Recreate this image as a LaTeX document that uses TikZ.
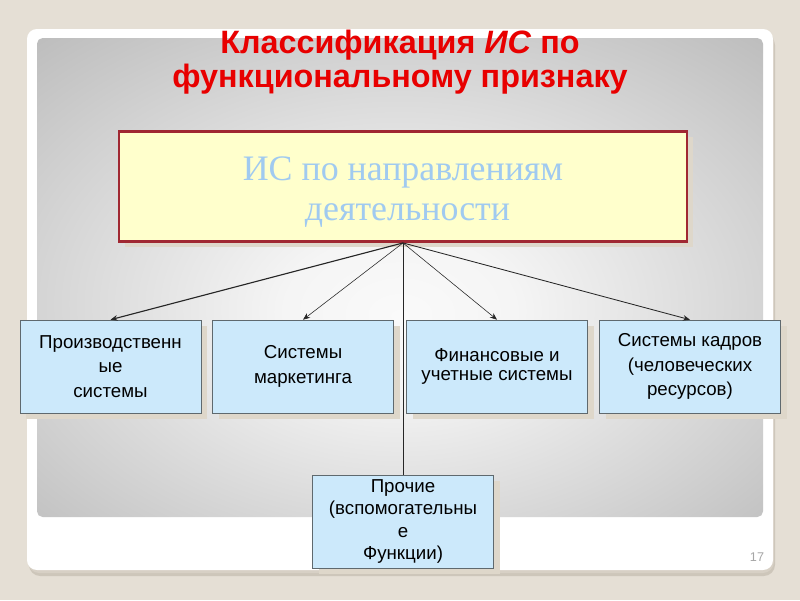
\documentclass[tikz,border=0pt]{standalone}
\usepackage{fontspec}
\setmainfont{Liberation Serif}
\setsansfont{Liberation Sans}
\usetikzlibrary{arrows.meta, positioning, shadows}

\definecolor{slidebg}{RGB}{229,223,213}
\definecolor{panelshade}{RGB}{205,198,186}
\definecolor{titlered}{RGB}{232,0,0}
\definecolor{topfill}{RGB}{255,255,204}
\definecolor{topline}{RGB}{160,40,50}
\definecolor{toptext}{RGB}{160,202,240}
\definecolor{boxfill}{RGB}{204,233,251}
\definecolor{boxline}{RGB}{95,105,110}
\definecolor{boxshade}{RGB}{222,215,202}

\pgfdeclareradialshading{slideglow}{\pgfpoint{0bp}{-4bp}}{%
  color(0bp)=(gray!4); color(8bp)=(gray!8); color(28bp)=(gray!38);
  color(50bp)=(gray!72); color(72bp)=(gray!84)}

\begin{document}
\begin{tikzpicture}[
    x=0.025cm, y=-0.025cm,
    >={Stealth[length=5pt, width=4pt]},
    topbox/.style={draw=topline, line width=2pt, fill=topfill,
                   minimum width=14.2cm, minimum height=2.75cm,
                   drop shadow={shadow xshift=4pt, shadow yshift=-4pt,
                                fill=boxshade, opacity=1}},
    toptext/.style={align=center, text=toptext,
                    font=\fontsize{25.5}{28.5}\selectfont},
    sysbox/.style={draw=boxline, fill=boxfill,
                   minimum width=4.525cm, minimum height=2.325cm,
                   align=center, inner sep=1pt,
                   font=\sffamily\fontsize{13.3}{17.4}\selectfont,
                   drop shadow={shadow xshift=4.5pt, shadow yshift=-4.5pt,
                                fill=boxshade, opacity=1}},
    link/.style={->, black!85}
  ]
  \useasboundingbox (0,0) rectangle (800,600);
  \fill[slidebg] (0,0) rectangle (800,600);

  % Slide panel
  \fill[panelshade, rounded corners=8pt] (29,34) rectangle (775,576);
  \fill[panelshade!60!slidebg, rounded corners=8pt] (28,31) rectangle (774,573);
  \fill[white, rounded corners=7pt] (27,29) rectangle (773,570);
  \shade[shading=slideglow, rounded corners=4pt] (37,38) rectangle (763,517);

  % Title
  \node[font=\sffamily\bfseries\fontsize{23}{24.5}\selectfont, text=titlered,
        align=center] (title) at (400,62)
    {Классификация \textit{ИС} по\\функциональному признаку};

  % Top level
  \node[topbox] (top) at (403,186.5) {};
  \node[toptext] (toplbl) at (403,192) {ИС по направлениям\\\ деятельности};
  \coordinate (hub) at (top.south);

  % Subsystems
  \node[sysbox] (prod) at (110.5,366.5) {Производственн\\ые\\системы};
  \node[sysbox] (mark) at (303,366.5) {Системы\\маркетинга};
  \node[sysbox, font=\sffamily\fontsize{13.3}{14}\selectfont] (fin) at (497,366.5)
    {Финансовые и\\учетные системы};
  \node[sysbox] (hr) at (690,366.5) {Системы кадров\\(человеческих\\ресурсов)};
  \node[sysbox, font=\sffamily\fontsize{13.3}{16.1}\selectfont] (misc) at (403,521.5)
    {Прочие\\(вспомогательны\\е\\Функции)};

  % Links
  \draw[link, thick] (hub) -- (prod.north);
  \draw[link] (hub) -- (mark.north);
  \draw[link] (hub) -- (fin.north);
  \draw[link, semithick] (hub) -- (hr.north);
  \draw[black!85] (hub) -- (misc.north);

  % Slide number
  \node[font=\sffamily\fontsize{9}{10}\selectfont, text=gray!70] (num) at (757,557) {17};
\end{tikzpicture}
\end{document}
